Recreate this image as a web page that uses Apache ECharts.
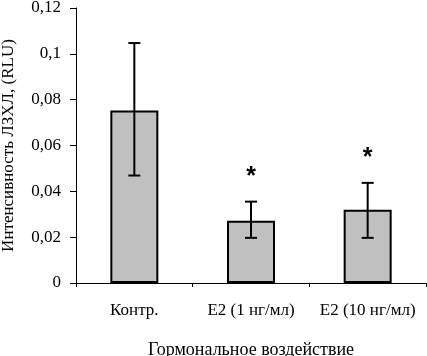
<!DOCTYPE html>
<html><head><meta charset="utf-8">
<script src="https://cdn.jsdelivr.net/npm/echarts@6/dist/echarts.min.js"></script>
<style>html,body{margin:0;padding:0;background:#fff}#c{width:427px;height:356px}</style>
</head><body><div id="c"></div>
<script>
var categories = ['Контр.', 'E2 (1 нг/мл)', 'E2 (10 нг/мл)'];
var means = [0.0753, 0.0272, 0.0320];
var errLow = [0.0469, 0.0197, 0.0197];
var errHigh = [0.1047, 0.0355, 0.0437];
var marks = ['', '*', '*'];
var yTicks = [0, 0.02, 0.04, 0.06, 0.08, 0.1, 0.12];

var font = 'Liberation Serif';
var chart = echarts.init(document.getElementById('c'), null, {renderer: 'canvas'});
chart.setOption({
  animation: false,
  backgroundColor: '#fff',
  grid: {left: 76, right: 1, top: 8, bottom: 73, containLabel: false, outerBoundsMode: 'none'},
  xAxis: {
    type: 'category', data: categories,
    axisLine: {lineStyle: {color: '#000', width: 1}},
    axisTick: {show: true, length: 4, lineStyle: {color: '#000'}},
    axisLabel: {color: '#000', fontFamily: font, fontSize: 17, margin: 19, interval: 0, hideOverlap: false},
    name: 'Гормональное воздействие', nameLocation: 'middle', nameGap: 58,
    nameTextStyle: {color: '#000', fontFamily: font, fontSize: 18}
  },
  yAxis: {
    type: 'value', min: yTicks[0], max: yTicks[yTicks.length - 1], interval: 0.02,
    splitLine: {show: false},
    axisLine: {show: true, lineStyle: {color: '#000', width: 1}},
    axisTick: {show: true, length: 6, lineStyle: {color: '#000'}},
    axisLabel: {color: '#000', fontFamily: font, fontSize: 17, margin: 15,
      formatter: function (v) { return String(+v.toFixed(2)).replace('.', ','); }},
    name: 'Интенсивность ЛЗХЛ, (RLU)', nameLocation: 'middle', nameGap: 59,
    nameTextStyle: {color: '#000', fontFamily: font, fontSize: 17}
  },
  series: [
    {
      type: 'bar', data: means, barWidth: 48,
      itemStyle: {color: '#c0c0c0', borderColor: '#000', borderWidth: 2}
    },
    {
      type: 'custom', z: 10,
      data: categories.map(function (c, i) { return [i, errLow[i], errHigh[i]]; }),
      renderItem: function (params, api) {
        var i = api.value(0);
        var lo = api.coord([i, api.value(1)]);
        var hi = api.coord([i, api.value(2)]);
        var hw = 6;
        var st = {stroke: '#000', lineWidth: 2};
        var children = [
          {type: 'line', shape: {x1: lo[0], y1: lo[1], x2: hi[0], y2: hi[1]}, style: st},
          {type: 'line', shape: {x1: lo[0] - hw, y1: lo[1], x2: lo[0] + hw, y2: lo[1]}, style: st},
          {type: 'line', shape: {x1: hi[0] - hw, y1: hi[1], x2: hi[0] + hw, y2: hi[1]}, style: st}
        ];
        var m = marks[params.dataIndex];
        if (m) {
          children.push({type: 'text', style: {text: m, x: hi[0], y: hi[1] - 25,
            fill: '#000', font: 'bold 25px "Liberation Sans"', align: 'center', verticalAlign: 'middle'}});
        }
        return {type: 'group', children: children};
      }
    }
  ]
});
</script></body></html>
